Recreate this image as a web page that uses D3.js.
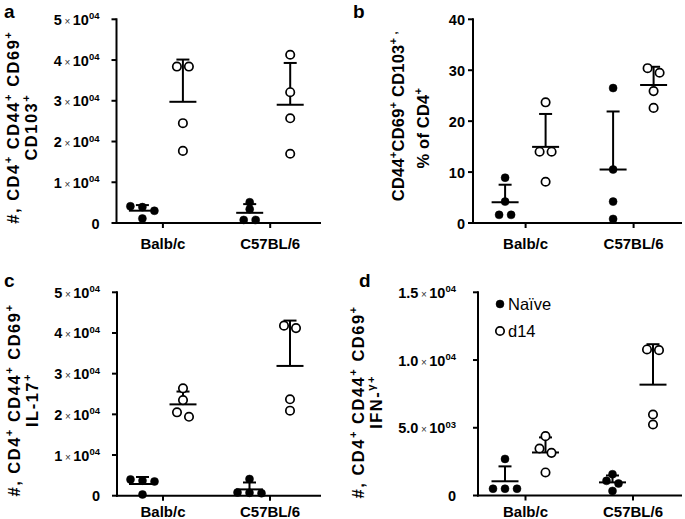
<!DOCTYPE html>
<html><head><meta charset="utf-8">
<script src="https://cdn.jsdelivr.net/npm/d3@7"></script>
<style>body{margin:0;background:#fff}svg{display:block}text{font-family:Arial,"Liberation Sans",sans-serif;fill:#000}</style>
</head><body><svg id="c" width="685" height="519"></svg>
<script>
// ---- data ----
const categories = ["Balb/c", "C57BL/6"];
const seriesNames = ["Naïve", "d14"];
// panel a: #, CD4+ CD44+ CD69+ CD103+
const aNaive = [[3900, 4100, 3000, 1100], [5100, 3400, 750, 750]];
const aD14   = [[38400, 38400, 24500, 17700], [41300, 32100, 25700, 17000]];
// panel b: CD44+CD69+ CD103+, % of CD4+
const bNaive = [[8.9, 4.2, 1.6, 1.6], [26.5, 10.5, 4.2, 0.8]];
const bD14   = [[23.7, 14.0, 14.0, 8.1], [30.4, 29.5, 25.9, 22.6]];
// panel c: #, CD4+ CD44+ CD69+ IL-17+
const cNaive = [[3500, 3700, 4000, 300], [4100, 800, 700, 600]];
const cD14   = [[26400, 23500, 20500, 19400], [41800, 41200, 23700, 20900]];
// panel d: #, CD4+ CD44+ CD69+ IFN-γ+
const dNaive = [[2700, 500, 500, 500], [1570, 1080, 885, 340]];
const dD14   = [[4380, 3470, 3150, 1700], [10780, 10730, 5980, 5240]];
// tick values and labels
const ticksCount = [0, 10000, 20000, 30000, 40000, 50000];
const ticksCountLabels = [["0"], ["1", "×", "10", "04"], ["2", "×", "10", "04"], ["3", "×", "10", "04"], ["4", "×", "10", "04"], ["5", "×", "10", "04"]];
const ticksPct = [0, 10, 20, 30, 40];
const ticksPctLabels = [["0"], ["10"], ["20"], ["30"], ["40"]];
const ticksIfn = [0, 5000, 10000, 15000];
const ticksIfnLabels = [["0"], ["5.0", "×", "10", "03"], ["1.0", "×", "10", "04"], ["1.5", "×", "10", "04"]];
// axis titles: [text, superscript?]
const titleCD103 = [[["#, CD4",0],["+",1],[" CD44",0],["+",1],[" CD69",0],["+",1]], [["CD103",0],["+",1]]];
const titlePct   = [[["CD44",0],["+",1],["CD69",0],["+",1],[" CD103",0],["+",1],[" ,",1]], [["% of CD4",0],["+",1]]];
const titleIL17  = [[["#, CD4",0],["+",1],[" CD44",0],["+",1],[" CD69",0],["+",1]], [["IL-17",0],["+",1]]];
const titleIFN   = [[["#, CD4",0],["+",1],[" CD44",0],["+",1],[" CD69",0],["+",1]], [["IFN-",0],["γ",1],["+",1]]];

// ---- layout ----
const panels = [
  {letter:"a", lx:4, ly:18, x0:116.5, x1:321, t1:46.4, t2:153.7, yTop:19.3, yBot:223, max:50000, ticks:ticksCount, tl:ticksCountLabels, naive:aNaive, d14:aD14, title:titleCD103, tx1:19, tx2:37, tdy:[6,6], ls:1.5, tgap:17, xl:26},
  {letter:"b", lx:353, ly:18, x0:473, x1:682, t1:52.6, t2:160.6, yTop:19.3, yBot:223, max:40, ticks:ticksPct, tl:ticksPctLabels, naive:bNaive, d14:bD14, title:titlePct, tx1:404, tx2:429, tdy:[-5,7], ls:0.2, tgap:8, xl:26},
  {letter:"c", lx:4, ly:287, x0:117, x1:321, t1:46, t2:153, yTop:292.3, yBot:495.7, max:50000, ticks:ticksCount, tl:ticksCountLabels, naive:cNaive, d14:cD14, title:titleIL17, tx1:20, tx2:38, tdy:[6,6], ls:1.5, tgap:17, xl:21},
  {letter:"d", lx:359, ly:287, x0:478, x1:682, t1:47.5, t2:155, yTop:292.3, yBot:495.5, max:15000, ticks:ticksIfn, tl:ticksIfnLabels, naive:dNaive, d14:dD14, title:titleIFN, tx1:364, tx2:382, tdy:[8,8], ls:1.5, tgap:22, xl:21, legend:true}
];

const svg = d3.select("#c");

function richTick(sel, parts) {
  sel.append("tspan").style("font-size","14.5px").style("font-weight","bold").text(parts[0]);
  if (parts.length > 1) {
    sel.append("tspan").attr("dx",2.5).style("font-size","10px").style("font-weight","normal").style("fill","#333").text(parts[1]);
    sel.append("tspan").attr("dx",2.5).style("font-size","14.5px").style("font-weight","bold").text(parts[2]);
    sel.append("tspan").attr("dy",-5.5).style("font-size","9.5px").style("font-weight","bold").text(parts[3]);
  }
}

function richTitle(sel, parts, base) {
  let shift = 0;
  parts.forEach(([t, sup]) => {
    const target = sup ? -base*0.42 : 0;
    sel.append("tspan").attr("dy", target - shift)
      .style("font-size", (sup ? base*0.68 : base) + "px").style("font-weight","bold").text(t);
    shift = target;
  });
}

// beeswarm-like layout: rows of near-equal values centered
function layout(values, y, sp) {
  const idx = values.map((v,i)=>i).sort((a,b)=>values[b]-values[a]);
  const rows = [];
  idx.forEach(i => {
    const r = rows[rows.length-1];
    if (r && Math.abs(y(values[r[0]]) - y(values[i])) < 6) r.push(i); else rows.push([i]);
  });
  const off = new Array(values.length).fill(0);
  rows.forEach(r => r.forEach((i,k) => off[i] = (k - (r.length-1)/2) * sp));
  return off;
}

panels.forEach(p => {
  const g = svg.append("g");
  const y = d3.scaleLinear().domain([0, p.max]).range([p.yBot, p.yTop]);
  const x = d3.scaleLinear().domain([0, 1]).range([p.x0 + p.t1, p.x0 + p.t2]);
  const groupOff = [-20.5, 20];

  g.append("line").attr("x1",p.x0).attr("x2",p.x0).attr("y1",p.yTop-1).attr("y2",p.yBot+1).attr("stroke","#000").attr("stroke-width",2);
  g.append("line").attr("x1",p.x0-1).attr("x2",p.x1).attr("y1",p.yBot).attr("y2",p.yBot).attr("stroke","#000").attr("stroke-width",2);
  p.ticks.forEach((t,i) => {
    g.append("line").attr("x1",p.x0-5).attr("x2",p.x0).attr("y1",y(t)).attr("y2",y(t)).attr("stroke","#000").attr("stroke-width",2);
    const tx = g.append("text").attr("x", p.x0 - p.tgap).attr("y", y(t) + 5.5).attr("text-anchor","end");
    richTick(tx, p.tl[i]);
  });
  categories.forEach((c,i) => {
    g.append("line").attr("x1",x(i)).attr("x2",x(i)).attr("y1",p.yBot).attr("y2",p.yBot+5).attr("stroke","#000").attr("stroke-width",2);
    g.append("text").attr("x",x(i)).attr("y",p.yBot+p.xl).attr("text-anchor","middle")
      .style("font-size","15px").style("font-weight","bold").text(c);
  });
  g.append("text").attr("x",p.lx).attr("y",p.ly).style("font-size","19px").style("font-weight","bold").text(p.letter);
  const yc = (p.yTop + p.yBot)/2;
  [p.tx1, p.tx2].forEach((tx, li) => {
    const t = g.append("text").attr("transform",`translate(${tx},${yc + p.tdy[li]}) rotate(-90)`).attr("text-anchor","middle")
      .style("letter-spacing", p.ls + "px");
    richTitle(t, p.title[li], 16.5);
  });

  [p.naive, p.d14].forEach((ser, si) => {
    ser.forEach((vals, ci) => {
      const cx = x(ci) + groupOff[si];
      const m = d3.mean(vals), sd = d3.deviation(vals);
      g.append("line").attr("x1",cx).attr("x2",cx).attr("y1",y(m)).attr("y2",y(m+sd)).attr("stroke","#000").attr("stroke-width",2);
      g.append("line").attr("x1",cx-6.5).attr("x2",cx+6.5).attr("y1",y(m+sd)).attr("y2",y(m+sd)).attr("stroke","#000").attr("stroke-width",2);
      g.append("line").attr("x1",cx-13.5).attr("x2",cx+13.5).attr("y1",y(m)).attr("y2",y(m)).attr("stroke","#000").attr("stroke-width",2);
      const off = layout(vals, y, 12);
      g.selectAll(null).data(vals).enter().append("circle")
        .attr("cx",(d,i)=>cx+off[i]).attr("cy",d=>y(d))
        .attr("r", si===0 ? 4 : 4.2)
        .attr("fill", si===0 ? "#000" : "#fff")
        .attr("stroke","#000").attr("stroke-width", si===0 ? 0.5 : 1.7);
    });
  });

  if (p.legend) {
    seriesNames.forEach((s,i) => {
      const ly = 304 + i*27;
      g.append("circle").attr("cx",500).attr("cy",ly).attr("r",i===0?4:4.2)
        .attr("fill",i===0?"#000":"#fff").attr("stroke","#000").attr("stroke-width",i===0?0.5:1.7);
      g.append("text").attr("x",508).attr("y",ly+6).style("font-size","16.5px").text(s);
    });
  }
});
</script></body></html>
